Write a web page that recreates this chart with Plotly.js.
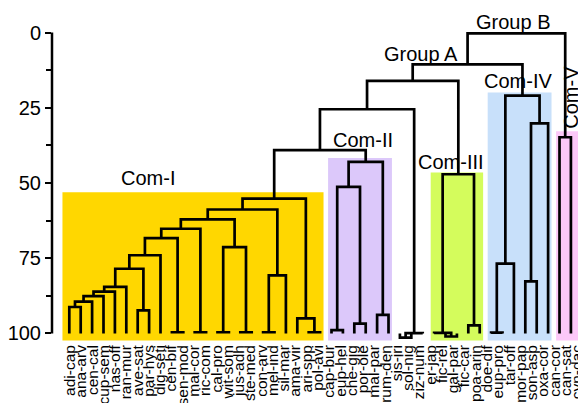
<!DOCTYPE html>
<html><head><meta charset="utf-8">
<script src="https://cdn.plot.ly/plotly-3.0.1.min.js"></script>
<style>html,body{margin:0;padding:0;overflow:hidden;background:#fff}</style>
</head><body><div id="chart"></div>
<script>
// leaf labels, left to right
const leafLabels = ["adi-cap","ana-arv","cen-cal","cup-sem","nas-off","ran-mur","ave-sat","par-hys","dig-seti","cen-bif",
  "sen-mod","mal-cor","ric-com","cal-pro","wit-som","jus-adh","ste-med","con-arv","mel-ind","sil-mar",
  "ama-vir","ari-spp","pol-avi","cap-bur","eup-hel","che-gig","por-ole","mal-par","rum-den","sis-iri",
  "sol-nig","ziz-num","er-jap","fic-rel","gal-par","fic-car","poa-arin","doe-dif","eup-pro","tar-off",
  "mor-pap","son-asp","oxa-cor","can-cor","can-sat","cyn-dac"];
const leafLevel = 100;
// merges: [left, right, level]; ids 0..45 = leaves, id 100+k = k-th merge
const linkage = [
  [0,1,91.2],[100,2,89.4],[101,3,87.6],[102,4,86.1],[103,5,84.5],
  [6,7,92.3],[104,105,78.5],[106,8,74.0],[9,10,99.6],[107,108,68.3],
  [11,12,99.6],[109,110,65.2],[13,14,99.6],[15,16,99.6],[112,113,71.3],
  [111,114,62.1],[17,18,99.6],[116,19,80.7],[115,117,58.8],[21,22,99.6],
  [20,119,95.0],[118,120,55.2],[23,24,98.9],[25,26,96.7],[27,28,93.8],
  [122,123,51.3],[125,124,43.0],[121,126,39.1],[29,30,101.4],[128,31,99.9],
  [127,129,25.5],[33,34,101.0],[32,131,99.8],[35,36,97.3],[132,133,47.1],
  [130,134,16.1],[37,38,99.7],[136,39,76.8],[40,41,82.7],[138,42,30.2],
  [137,139,21.0],[135,140,10.6],[43,44,34.8],[141,142,0.3]
];
const comNames = ["Com-I","Com-II","Com-III","Com-IV","Com-V"];
const comFirstLeaf = [0,23,32,37,43];
const comLastLeaf = [22,28,36,42,45];
const comTop = [53.1,41.7,46.5,19.9,32.8];
const groupNames = ["Group A","Group B"];
const yTicks = [0,25,50,75,100];
const yMinorTicks = [12.5,37.5,62.5,87.5];

// styles
const comColors = ["#FFD700","#DCC8FA","#D4FC5C","#C8E0FA","#FCC8F8"];
const FONT = "Liberation Sans, Arial, Helvetica, sans-serif";

// build dendrogram path
const nodeX = {}, nodeY = {};
leafLabels.forEach((_, i) => { nodeX[i] = i; nodeY[i] = leafLevel; });
const xs = [], ys = [];
linkage.forEach(([a, b, h], k) => {
  xs.push(nodeX[a], nodeX[a], nodeX[b], nodeX[b], null);
  ys.push(nodeY[a], h, h, nodeY[b], null);
  nodeX[100 + k] = (nodeX[a] + nodeX[b]) / 2;
  nodeY[100 + k] = h;
});

const pad = 0.3;
const shapes = comNames.map((n, i) => ({
  type: "rect", xref: "x", yref: "y", layer: "below",
  x0: comFirstLeaf[i] - (i === 0 ? 0.6 : pad), x1: comLastLeaf[i] + pad,
  y0: comTop[i], y1: 102.3,
  fillcolor: comColors[i], line: {width: 0}
}));
shapes.push({type: "line", xref: "paper", yref: "y", x0: 0, x1: 0, y0: yTicks[0], y1: yTicks[yTicks.length-1],
  line: {color: "#000", width: 2.5}});

const annFont = {family: FONT, size: 20, color: "#000"};
const annotations = [
  {text: comNames[0], x: 6.9, y: 48.3},
  {text: comNames[1], x: 25.79, y: 35.7},
  {text: comNames[2], x: 33.51, y: 43.1},
  {text: comNames[3], x: 39.33, y: 16.1},
  {text: comNames[4], x: 43.99, y: 21.4, textangle: -90},
  {text: groupNames[0], x: 30.88, y: 7.05},
  {text: groupNames[1], x: 38.95, y: 0, yshift: 10.5}
].map(a => Object.assign({xref: "x", yref: "y", showarrow: false, xanchor: "center", yanchor: "middle", font: annFont}, a));

const tree = {
  type: "scatter", mode: "lines", x: xs, y: ys, xaxis: "x", yaxis: "y",
  line: {color: "#000", width: 2.7}, hoverinfo: "skip", connectgaps: false
};
// empty trace that carries the leaf-label axis
const labelCarrier = {type: "scatter", mode: "lines", x: [], y: [], xaxis: "x2", yaxis: "y", hoverinfo: "skip"};

const layout = {
  width: 612, height: 403,
  margin: {l: 52, r: 20, t: 28, b: 62},
  paper_bgcolor: "#fff", plot_bgcolor: "rgba(0,0,0,0)",
  showlegend: false,
  font: {family: FONT, color: "#000"},
  xaxis: {
    range: [-1.5175, 45.85], showgrid: false, zeroline: false, showline: false,
    ticks: "", showticklabels: false
  },
  xaxis2: {
    overlaying: "x", anchor: "y", side: "bottom",
    range: [-1.597, 46.318], showgrid: false, zeroline: false, showline: false,
    ticks: "", tickmode: "array", tickvals: leafLabels.map((_, i) => i), ticktext: leafLabels,
    tickangle: -90, tickfont: {family: FONT, size: 15.5, color: "#000"}
  },
  yaxis: {
    range: [102.5, -1.5], showgrid: false, zeroline: false, showline: false,
    tickmode: "array", tickvals: yTicks, ticks: "outside", ticklen: 6, tickwidth: 2, tickcolor: "#000",
    tickfont: {family: FONT, size: 20, color: "#000"},
    minor: {tickmode: "array", tickvals: yMinorTicks, ticks: "outside", ticklen: 5, tickwidth: 2, tickcolor: "#000", showgrid: false}
  },
  shapes: shapes,
  annotations: annotations
};

Plotly.newPlot("chart", [tree, labelCarrier], layout, {staticPlot: true, displayModeBar: false});
</script>
</body></html>
